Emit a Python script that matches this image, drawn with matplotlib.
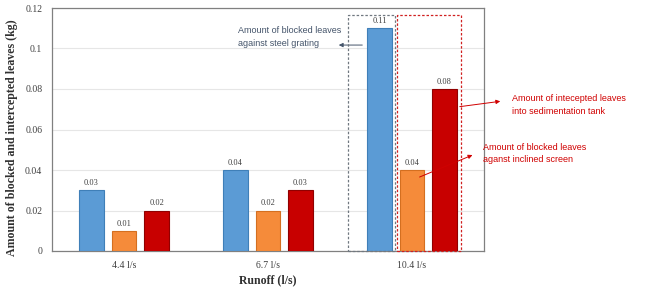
import matplotlib.pyplot as plt
import numpy as np

# --- Data ---
categories = ['4.4 l/s', '6.7 l/s', '10.4 l/s']
steel_grating = [0.03, 0.04, 0.11]      # blue
inclined_screen = [0.01, 0.02, 0.04]    # orange
sed_tank = [0.02, 0.03, 0.08]           # red

colors = ['#5B9BD5', '#F58B3A', '#C80000']
edges = ['#3F7FB8', '#D46F20', '#900000']

plt.rcParams['font.family'] = ['Liberation Serif', 'DejaVu Serif']

fig = plt.figure(figsize=(6.52, 2.88), dpi=100)
ax = fig.add_axes([52 / 652, 1 - 251 / 288, 432 / 652, 243 / 288])

x = np.arange(len(categories))
width = 0.17
offset = 0.226
series = [steel_grating, inclined_screen, sed_tank]
for i, vals in enumerate(series):
    pos = x + (i - 1) * offset
    bars = ax.bar(pos, vals, width, color=colors[i], edgecolor=edges[i], linewidth=0.8, zorder=3)
    for b, v in zip(bars, vals):
        ax.text(b.get_x() + b.get_width() / 2, v + 0.0015, f'{v:.2f}',
                ha='center', va='bottom', fontsize=6, color='#404040', zorder=4)

ax.set_xlim(-0.5, 2.5)
ax.set_ylim(0, 0.12)
ax.set_yticks(np.arange(0, 0.121, 0.02))
ax.set_yticklabels(['0', '0.02', '0.04', '0.06', '0.08', '0.1', '0.12'])
ax.set_xticks(x)
ax.set_xticklabels(categories)
ax.tick_params(axis='both', length=0, labelsize=7, colors='#404040', pad=7)
ax.grid(axis='y', color='#E6E6E6', linewidth=0.8, zorder=0)
for s in ax.spines.values():
    s.set_color('#808080')
    s.set_linewidth(0.9)

ax.set_xlabel('Runoff (l/s)', fontsize=8.5, fontweight='bold', color='#303030', labelpad=3)
ax.set_ylabel('Amount of blocked and intercepted leaves (kg)', fontsize=8.6,
              fontweight='bold', color='#303030')
ax.yaxis.set_label_coords(-0.079, 0.465)

# dashed highlight boxes around the 10.4 l/s group
top = 0.1165
ax.add_patch(plt.Rectangle((1.556, 0), 1.882 - 1.556, top, fill=False,
                           ls=(0, (2, 1.5)), ec='#707880', lw=0.9, zorder=5, clip_on=False))
ax.add_patch(plt.Rectangle((1.896, 0), 2.34 - 1.896, top, fill=False,
                           ls=(0, (2, 1.5)), ec='#D02020', lw=0.9, zorder=5, clip_on=False))

# annotations
sans = ['Liberation Sans', 'DejaVu Sans']
ax.text(0.79, 0.1057, 'Amount of blocked leaves\nagainst steel grating', fontsize=6.5,
        family=sans, color='#44546A', va='center', ha='left', linespacing=1.45)
ax.annotate('', xy=(1.472, 0.1017), xytext=(1.674, 0.1017),
            arrowprops=dict(arrowstyle='-|>', color='#44546A', lw=0.7, mutation_scale=6))

ax.text(2.694, 0.0721, 'Amount of intecepted leaves\ninto sedimentation tank', fontsize=6.5,
        family=sans, color='#D00000', va='center', ha='left', linespacing=1.45, clip_on=False)
ax.annotate('', xy=(2.632, 0.0741), xytext=(2.3125, 0.0711), annotation_clip=False,
            arrowprops=dict(arrowstyle='-|>', color='#D00000', lw=0.7, mutation_scale=6))

ax.text(2.493, 0.0481, 'Amount of blocked leaves\naganst inclined screen', fontsize=6.5,
        family=sans, color='#D00000', va='center', ha='left', linespacing=1.45, clip_on=False)
ax.annotate('', xy=(2.4375, 0.0479), xytext=(2.035, 0.0360), annotation_clip=False,
            arrowprops=dict(arrowstyle='-|>', color='#D00000', lw=0.7, mutation_scale=6))

fig.savefig('out.png', dpi=100)
